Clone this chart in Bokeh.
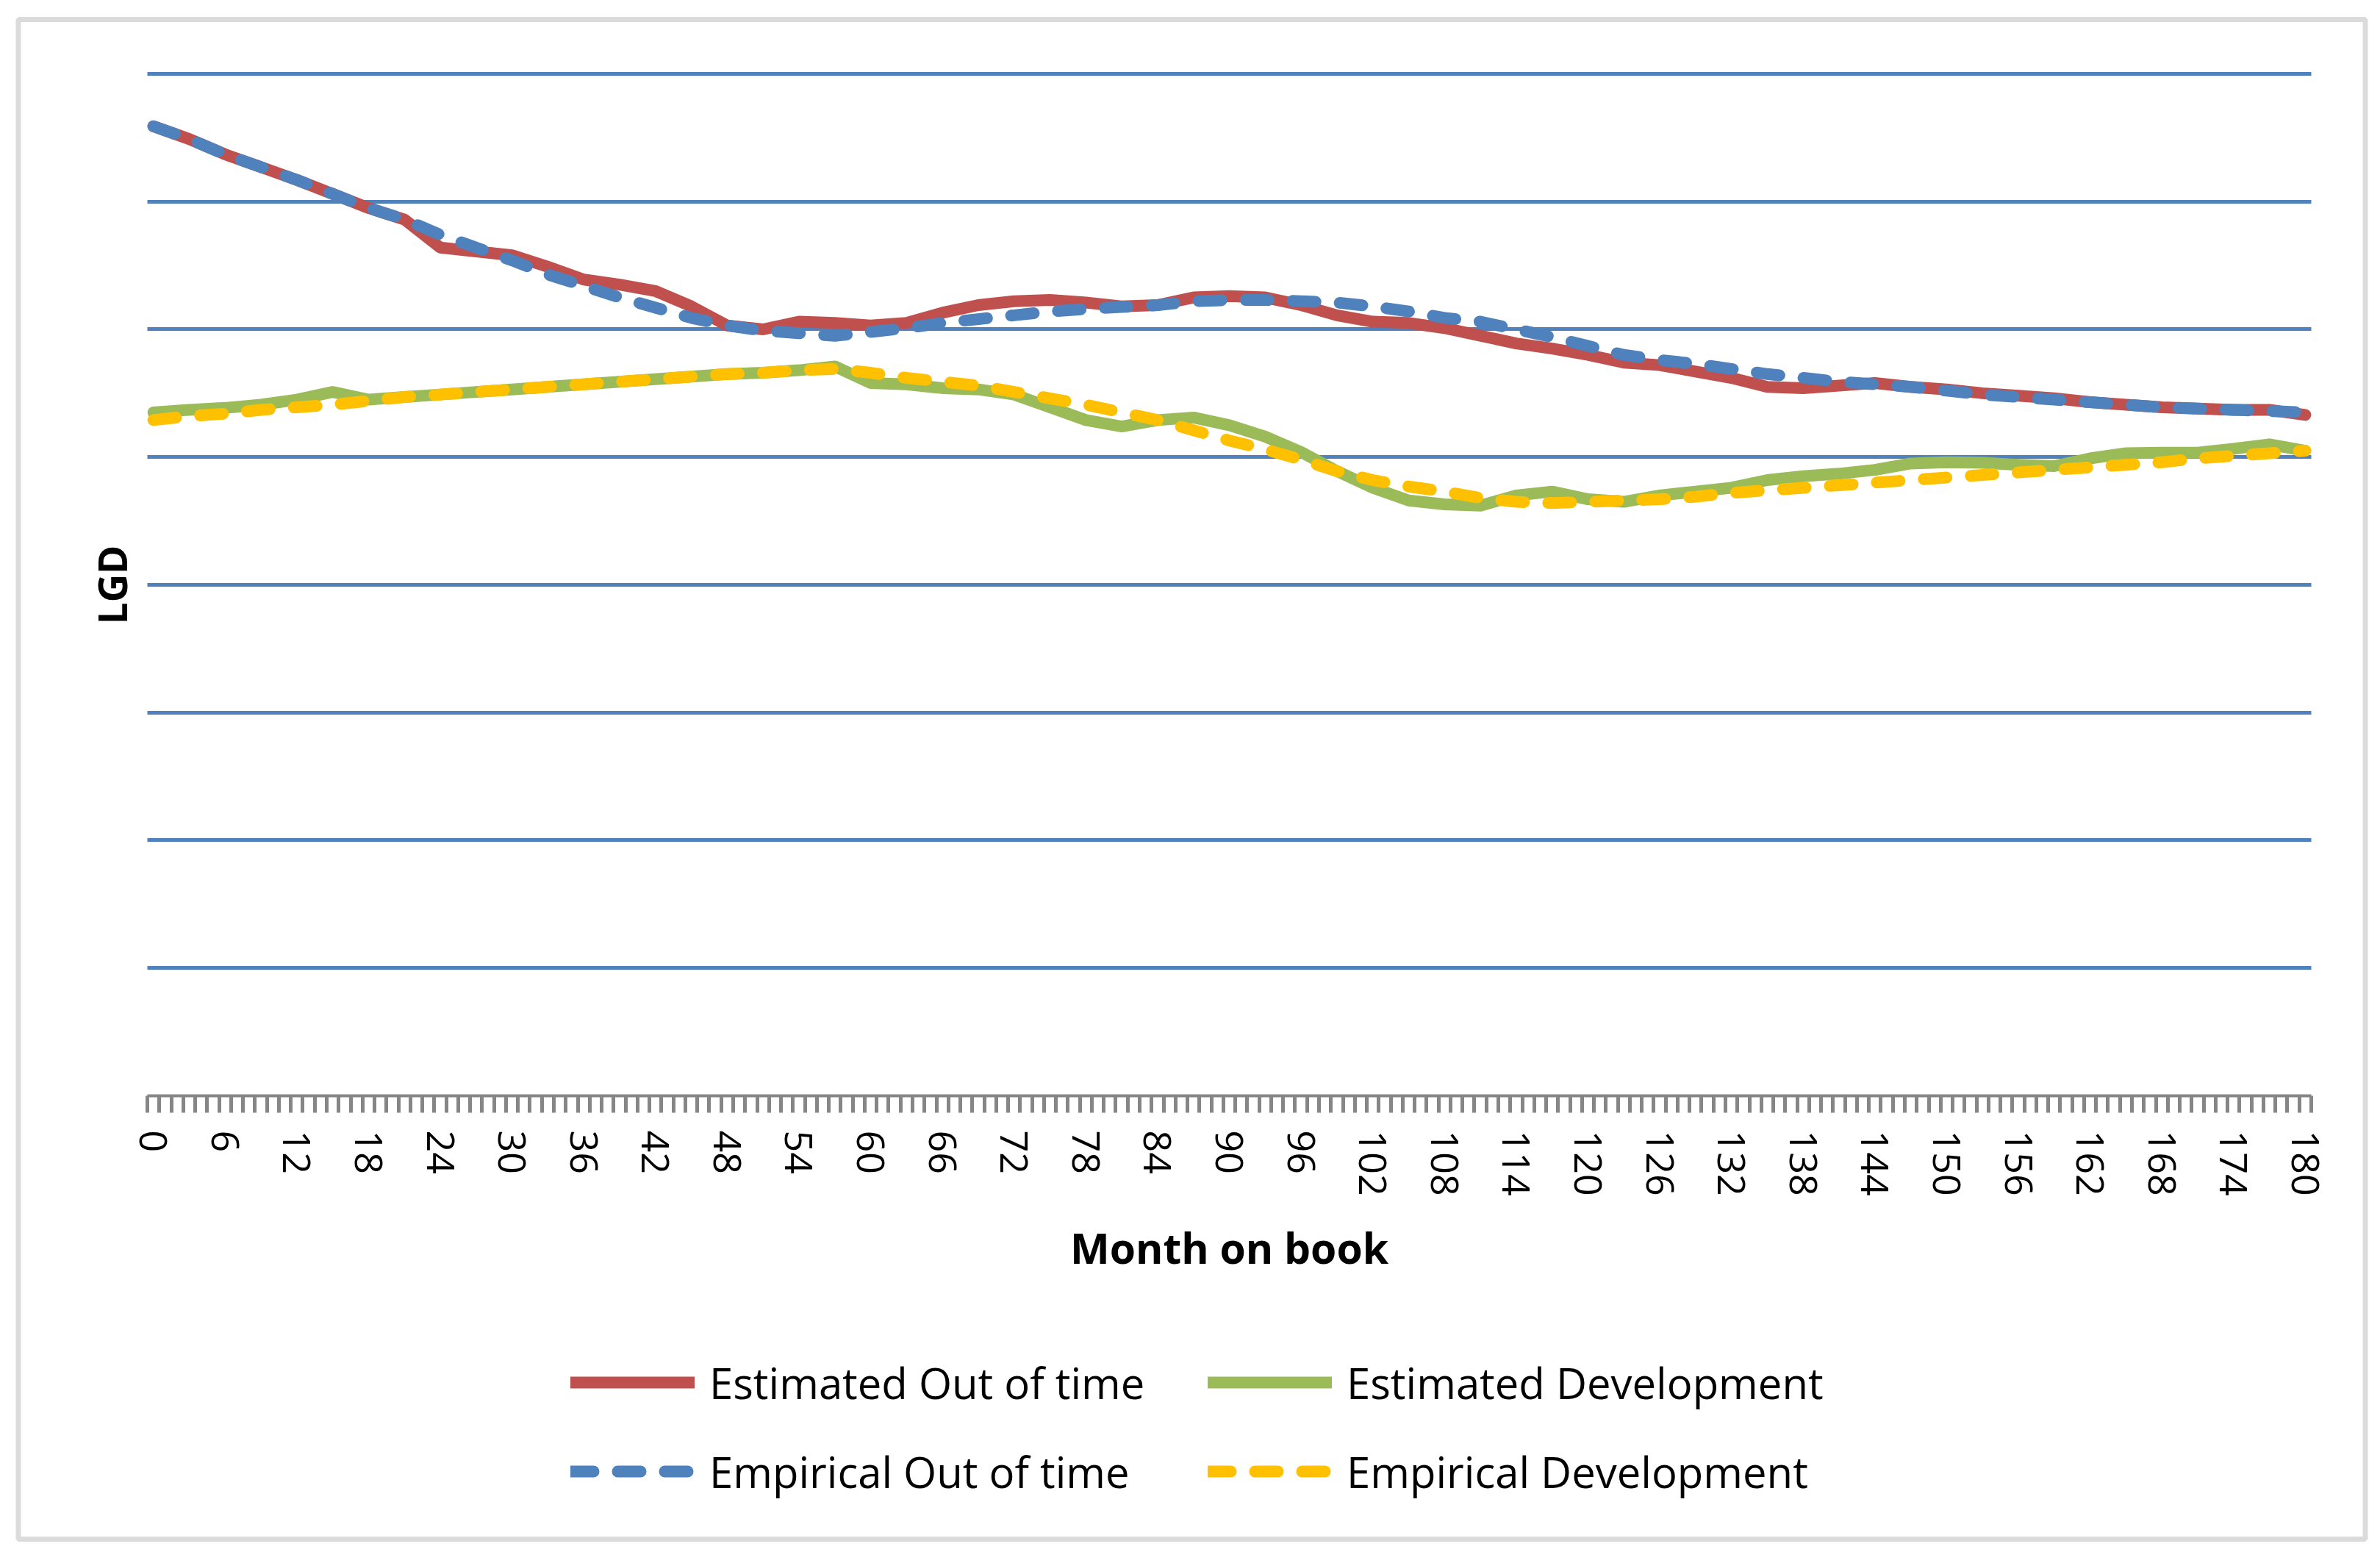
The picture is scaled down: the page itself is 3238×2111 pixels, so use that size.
from bokeh.plotting import figure
from bokeh.models import (Range1d, FixedTicker, Legend, LegendItem, BoxAnnotation,
                          LinearAxis, Grid)
from bokeh.embed import file_html
from bokeh.resources import INLINE

# ---- data ----
months = list(range(0, 181, 3))

est_oot = [
    0.759, 0.749, 0.737, 0.727, 0.717, 0.706, 0.695, 0.686, 0.664, 0.661,
    0.658, 0.649, 0.639, 0.635, 0.630, 0.618, 0.603, 0.600, 0.606, 0.605,
    0.603, 0.605, 0.613, 0.619, 0.622, 0.623, 0.621, 0.618, 0.619, 0.625,
    0.626, 0.625, 0.619, 0.611, 0.606, 0.605, 0.601, 0.595, 0.589, 0.585,
    0.580, 0.574, 0.572, 0.567, 0.562, 0.555, 0.554, 0.556, 0.558, 0.555,
    0.553, 0.550, 0.548, 0.546, 0.543, 0.541, 0.539, 0.538, 0.537, 0.537,
    0.533]

emp_oot = [
    0.759, 0.749, 0.737, 0.727, 0.717, 0.706, 0.695, 0.686, 0.674, 0.664,
    0.654, 0.643, 0.634, 0.625, 0.617, 0.609, 0.603, 0.599, 0.597, 0.595,
    0.598, 0.601, 0.605, 0.608, 0.611, 0.614, 0.616, 0.6175, 0.619, 0.622,
    0.623, 0.623, 0.622, 0.621, 0.618, 0.614, 0.609, 0.606, 0.600, 0.594,
    0.587, 0.580, 0.576, 0.573, 0.569, 0.565, 0.562, 0.559, 0.557, 0.555,
    0.552, 0.549, 0.547, 0.545, 0.543, 0.541, 0.539, 0.538, 0.537, 0.536,
    0.535]

est_dev = [
    0.535, 0.537, 0.5385, 0.541, 0.545, 0.551, 0.545, 0.547, 0.549, 0.551,
    0.553, 0.555, 0.557, 0.559, 0.561, 0.563, 0.565, 0.566, 0.568, 0.571,
    0.558, 0.557, 0.554, 0.553, 0.549, 0.539, 0.529, 0.524, 0.529, 0.531,
    0.525, 0.516, 0.504, 0.489, 0.476, 0.466, 0.463, 0.462, 0.470, 0.473,
    0.467, 0.465, 0.470, 0.473, 0.476, 0.482, 0.485, 0.487, 0.490, 0.495,
    0.496, 0.4955, 0.494, 0.493, 0.499, 0.503, 0.5035, 0.5035, 0.5065, 0.510,
    0.505]

emp_dev = [
    0.529, 0.532, 0.534, 0.537, 0.539, 0.541, 0.544, 0.547, 0.549, 0.551,
    0.553, 0.555, 0.557, 0.559, 0.561, 0.563, 0.565, 0.566, 0.568, 0.569,
    0.566, 0.562, 0.559, 0.556, 0.551, 0.546, 0.541, 0.535, 0.529, 0.521,
    0.513, 0.506, 0.498, 0.489, 0.482, 0.477, 0.473, 0.468, 0.465, 0.464,
    0.465, 0.466, 0.467, 0.469, 0.472, 0.474, 0.476, 0.478, 0.480, 0.482,
    0.484, 0.486, 0.488, 0.490, 0.492, 0.494, 0.496, 0.499, 0.501, 0.503,
    0.505]

series_names = ["Estimated Out of time", "Estimated Development",
                "Empirical Out of time", "Empirical Development"]
series_colors = ["#C0504D", "#9BBB59", "#4F81BD", "#FFC000"]

x_ticks = [0, 6, 12, 18, 24, 30, 36, 42, 48, 54, 60, 66, 72, 78, 84, 90,
           96, 102, 108, 114, 120, 126, 132, 138, 144, 150, 156, 162, 168,
           174, 180]
x_tick_labels = ["0", "6", "12", "18", "24", "30", "36", "42", "48", "54",
                 "60", "66", "72", "78", "84", "90", "96", "102", "108",
                 "114", "120", "126", "132", "138", "144", "150", "156",
                 "162", "168", "174", "180"]
month_categories = list(range(0, 181))
y_grid_levels = [0.1, 0.2, 0.3, 0.4, 0.5, 0.6, 0.7, 0.8]

# ---- figure: frame covers the whole canvas, axes drawn at fixed positions ----
p = figure(width=3230, height=2103,
           x_range=Range1d(-12.796, 185.787), y_range=Range1d(-0.35281, 0.85755),
           output_backend="svg", toolbar_location=None,
           x_axis_location=None, y_axis_location=None,
           min_border=0, min_border_left=0, min_border_right=0,
           min_border_top=0, min_border_bottom=0,
           background_fill_color="white", border_fill_color="white")
p.outline_line_color = None
p.xgrid.visible = False
p.ygrid.visible = False

grid = Grid(dimension=1, ticker=FixedTicker(ticks=y_grid_levels),
            cross_bounds=(-0.5, 180.5),
            grid_line_color="#4F81BD", grid_line_width=5)
p.add_layout(grid)

# x axis at LGD = 0
xa = LinearAxis(fixed_location=0, bounds=(-0.5, 180.5))
xa.ticker = FixedTicker(ticks=x_ticks,
                        minor_ticks=[c - 0.5 for c in month_categories] + [180.5])
xa.major_label_overrides = dict(zip(x_ticks, x_tick_labels))
xa.major_label_orientation = "vertical"
xa.major_label_text_font = "Open Sans"
xa.major_label_text_font_size = "52px"
xa.major_label_text_color = "black"
xa.major_label_standoff = 24
xa.major_tick_out = 23
xa.major_tick_in = 0
xa.major_tick_line_color = None
xa.minor_tick_out = 23
xa.minor_tick_in = 0
xa.minor_tick_line_color = "#868686"
xa.minor_tick_line_width = 5
xa.axis_line_color = "#868686"
xa.axis_line_width = 4
xa.axis_label = "Month on book"
xa.axis_label_text_font = "Open Sans"
xa.axis_label_text_font_style = "bold"
xa.axis_label_text_font_size = "57px"
xa.axis_label_text_color = "black"
xa.axis_label_standoff = 28
p.add_layout(xa, "below")

# y axis: no ticks, no labels, only the title
ya = LinearAxis(fixed_location=-0.5, bounds=(0, 0.8))
ya.ticker = FixedTicker(ticks=[])
ya.axis_line_color = None
ya.major_tick_line_color = None
ya.minor_tick_line_color = None
ya.major_tick_out = 0
ya.major_label_standoff = 0
ya.axis_label = "LGD"
ya.axis_label_text_font = "Open Sans"
ya.axis_label_text_font_style = "bold"
ya.axis_label_text_font_size = "53px"
ya.axis_label_text_color = "black"
ya.axis_label_standoff = 12
p.add_layout(ya, "left")

# lines
common = dict(line_width=16, line_cap="round", line_join="round")
r_est_oot = p.line(months, est_oot, line_color=series_colors[0], **common)
r_est_dev = p.line(months, est_dev, line_color=series_colors[1], **common)
r_emp_oot = p.line(months, emp_oot, line_color=series_colors[2], line_dash="31 33", **common)
r_emp_dev = p.line(months, emp_dev, line_color=series_colors[3], line_dash="31 33", **common)

legend = Legend(items=[
    LegendItem(label=series_names[0], renderers=[r_est_oot]),
    LegendItem(label=series_names[1], renderers=[r_est_dev]),
    LegendItem(label=series_names[2], renderers=[r_emp_oot]),
    LegendItem(label=series_names[3], renderers=[r_emp_dev]),
], orientation="horizontal", ncols=2, location=(776, 60),
    glyph_width=169, glyph_height=84, label_height=84, label_width=641,
    label_standoff=20, spacing=37, padding=0, margin=0,
    border_line_color=None, background_fill_alpha=0,
    label_text_font="Open Sans", label_text_font_size="58px",
    label_text_color="black")
p.add_layout(legend)

# outer chart border
border = BoxAnnotation(left=24.5, right=3217.5, top=26, bottom=2093,
                       left_units="canvas", right_units="canvas",
                       top_units="canvas", bottom_units="canvas",
                       fill_color=None, fill_alpha=0,
                       line_color="#898989", line_width=7)
p.add_layout(border)

open("out.html", "w").write(file_html(p, INLINE))
